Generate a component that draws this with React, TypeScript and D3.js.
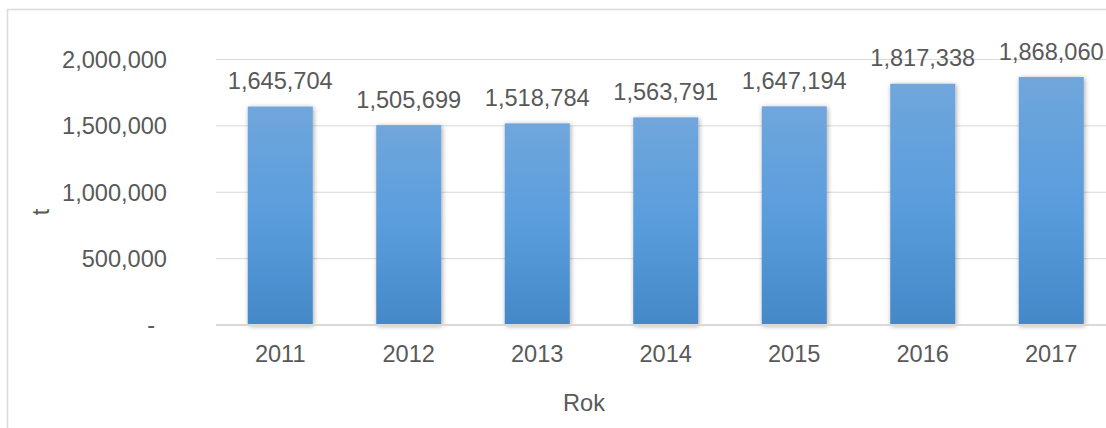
import React from "react";
import * as d3 from "d3";

const years = ["2011", "2012", "2013", "2014", "2015", "2016", "2017"];
const values = [1645704, 1505699, 1518784, 1563791, 1647194, 1817338, 1868060];
const yTicks = [0, 500000, 1000000, 1500000, 2000000];

const W = 1106;
const H = 428;
const plotLeft = 216;
const plotRight = 1115.5;
const yTop = 59.5;
const yBottom = 325;
const FONT = "'Liberation Sans', Arial, sans-serif";
const TEXT = "#595959";
const FS = 23.6;

export default function App() {
  const x = d3.scaleBand<string>().domain(years).range([plotLeft, plotRight]).paddingInner(0.494).paddingOuter(0.247);
  const y = d3.scaleLinear().domain([0, 2000000]).range([yBottom, yTop]);
  const fmt = d3.format(",");
  return (
    <svg width={W} height={H} style={{ position: "absolute", left: 0, top: 0, background: "#fff" }}>
      <defs>
        <linearGradient id="barGrad" x1="0" y1="0" x2="0" y2="1">
          <stop offset="0%" stopColor="#70a6dc" />
          <stop offset="50%" stopColor="#5a9ddd" />
          <stop offset="100%" stopColor="#4488c8" />
        </linearGradient>
        <filter id="shadow" x="-20%" y="-10%" width="140%" height="120%">
          <feDropShadow dx="1" dy="1" stdDeviation="2.5" floodColor="#000" floodOpacity="0.35" />
        </filter>
      </defs>
      <rect x={0} y={0} width={W} height={H} fill="#fff" />
      <path d={`M7.5,${H} V9.5 H${W + 2}`} fill="none" stroke="#d9d9d9" strokeWidth={1.5} />
      {yTicks.slice(1).map((t) => (
        <line key={t} x1={plotLeft} x2={plotRight} y1={y(t)} y2={y(t)} stroke="#d9d9d9" strokeWidth={1} />
      ))}
      {values.map((v, i) => (
        <rect
          key={years[i]}
          x={x(years[i])}
          y={y(v)}
          width={x.bandwidth()}
          height={yBottom - y(v)}
          fill="url(#barGrad)"
          filter="url(#shadow)"
        />
      ))}
      <line x1={plotLeft} x2={plotRight} y1={yBottom} y2={yBottom} stroke="#d9d9d9" strokeWidth={2} />
      {yTicks.map((t) => (
        <text
          key={t}
          x={t === 0 ? 155 : 167}
          y={y(t)}
          dy="0.35em"
          textAnchor="end"
          fontFamily={FONT}
          fontSize={FS}
          fill={TEXT}
        >
          {t === 0 ? "-" : fmt(t)}
        </text>
      ))}
      {values.map((v, i) => (
        <text
          key={"l" + years[i]}
          x={x(years[i])! + x.bandwidth() / 2}
          y={y(v) - 17.5}
          textAnchor="middle"
          fontFamily={FONT}
          fontSize={FS}
          fill={TEXT}
        >
          {fmt(v)}
        </text>
      ))}
      {years.map((yr) => (
        <text
          key={"x" + yr}
          x={x(yr)! + x.bandwidth() / 2}
          y={362}
          textAnchor="middle"
          fontFamily={FONT}
          fontSize={FS}
          fill={TEXT}
        >
          {yr}
        </text>
      ))}
      <text x={584} y={411} textAnchor="middle" fontFamily={FONT} fontSize={FS} fill={TEXT}>
        Rok
      </text>
      <text
        transform="translate(49,212) rotate(-90)"
        textAnchor="middle"
        fontFamily={FONT}
        fontSize={FS}
        fill={TEXT}
      >
        t
      </text>
    </svg>
  );
}
